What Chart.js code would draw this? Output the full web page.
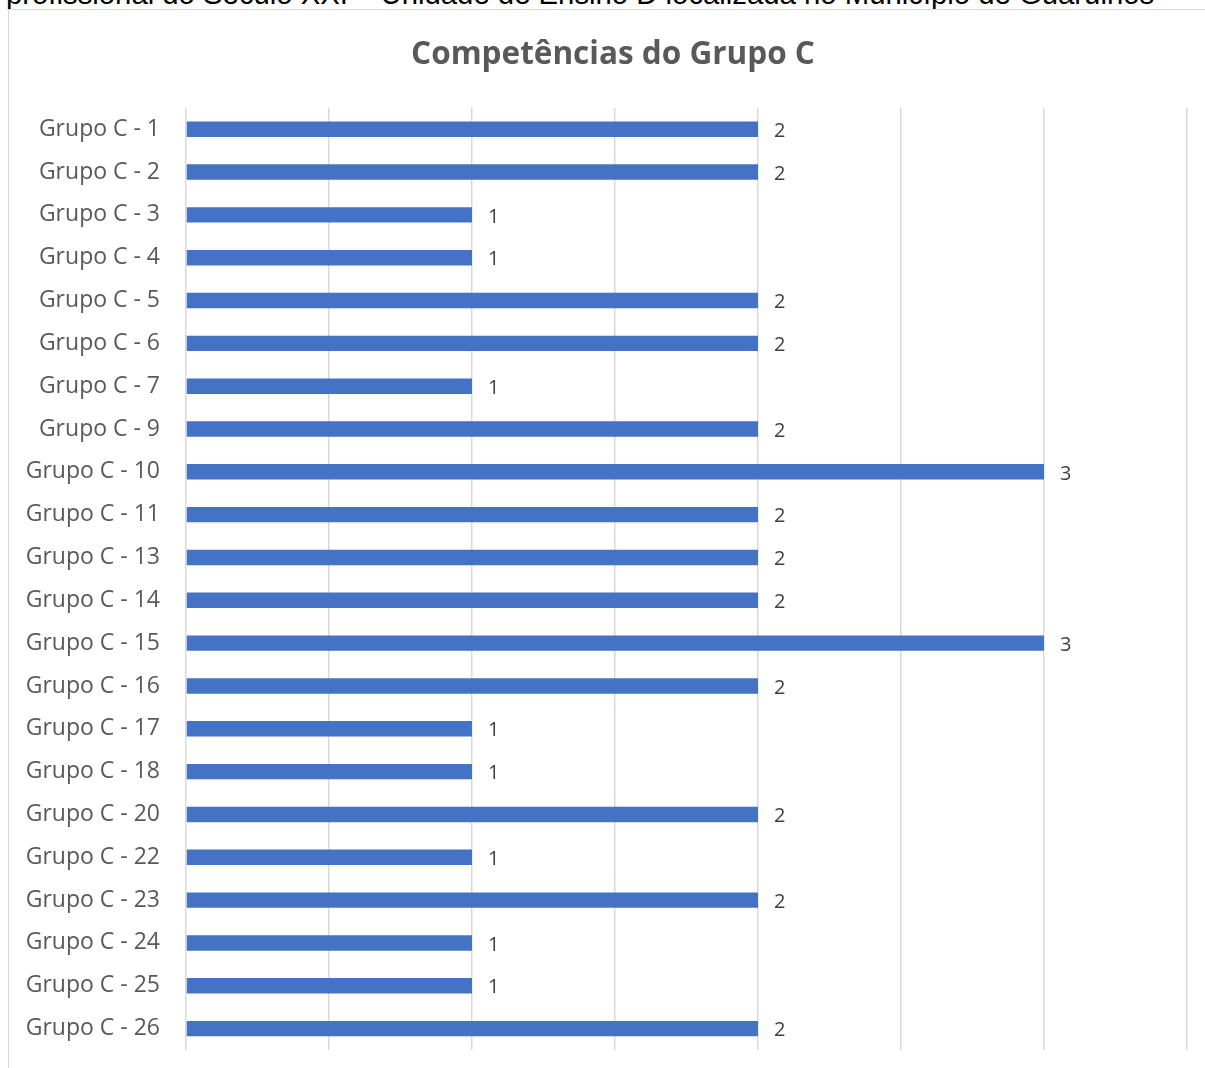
<!DOCTYPE html>
<html>
<head>
<meta charset="utf-8">
<script src="https://cdn.jsdelivr.net/npm/chart.js@4"></script>
<style>
  html, body { margin: 0; padding: 0; background: #fff; overflow: hidden; }
  #wrap { position: relative; width: 1205px; height: 1068px; overflow: hidden; }
  #topline { position: absolute; left: 6px; top: 0; font-family: "Liberation Sans", Arial, sans-serif; font-size: 26px; color: #000; white-space: nowrap; line-height: 1; }
  #frame { position: absolute; left: 8px; top: 9px; width: 1220px; height: 1080px; border: 1.5px solid #d9d9d9; box-sizing: border-box; }
  #c { position: absolute; left: 0; top: 0; }
</style>
</head>
<body>
<div id="wrap">
  <div id="topline">profissional do Século XXI – Unidade de Ensino D localizada no Município de Guarulhos</div>
  <div id="frame"></div>
  <canvas id="c" width="1226" height="1068"></canvas>
</div>
<script>
const categories = ["Grupo C - 1","Grupo C - 2","Grupo C - 3","Grupo C - 4","Grupo C - 5","Grupo C - 6","Grupo C - 7","Grupo C - 9","Grupo C - 10","Grupo C - 11","Grupo C - 13","Grupo C - 14","Grupo C - 15","Grupo C - 16","Grupo C - 17","Grupo C - 18","Grupo C - 20","Grupo C - 22","Grupo C - 23","Grupo C - 24","Grupo C - 25","Grupo C - 26"];
const values = [2,2,1,1,2,2,1,2,3,2,2,2,3,2,1,1,2,1,2,1,1,2];
const chartTitle = "Competências do Grupo C";

// fit the cut-off top text line to its width and place its baseline near y=5
(function(){
  const el = document.getElementById('topline');
  const w = el.getBoundingClientRect().width;
  const fs = 26 * 1149 / w;
  el.style.fontSize = fs + 'px';
  el.style.top = (5 - fs * 0.9) + 'px';
})();

const dataLabels = {
  id: 'dataLabels',
  afterDatasetsDraw(chart) {
    const ctx = chart.ctx;
    const meta = chart.getDatasetMeta(0);
    ctx.save();
    ctx.font = '20px "Open Sans", Lato, sans-serif';
    ctx.fillStyle = '#404040';
    ctx.textAlign = 'left';
    ctx.textBaseline = 'middle';
    meta.data.forEach((bar, i) => {
      ctx.fillText(String(values[i]), bar.x + 16, bar.y + 2);
    });
    ctx.restore();
  }
};

new Chart(document.getElementById('c'), {
  type: 'bar',
  data: {
    labels: categories,
    datasets: [{
      data: values,
      backgroundColor: '#4472c4',
      borderWidth: 0,
      barPercentage: 0.36,
      categoryPercentage: 1.0
    }]
  },
  options: {
    indexAxis: 'y',
    responsive: false,
    animation: false,
    devicePixelRatio: 1,
    layout: { padding: { left: 0, right: 0, top: 0, bottom: 18 } },
    plugins: {
      legend: { display: false },
      tooltip: { enabled: false },
      title: {
        display: true,
        text: chartTitle,
        color: '#595959',
        font: { family: '"Open Sans", Lato, sans-serif', size: 31.5, weight: 'bold', lineHeight: 1.2 },
        padding: { top: 36, bottom: 34 }
      }
    },
    scales: {
      x: {
        min: 0, max: 3.5,
        ticks: { display: false, stepSize: 0.5 },
        grid: { color: '#d9d9d9', lineWidth: 1.5, drawTicks: false },
        border: { display: false },
        afterFit(s) { s.height = 0; s.paddingLeft = 0; s.paddingRight = 0; }
      },
      y: {
        ticks: { color: '#595959', font: { family: '"Open Sans", Lato, sans-serif', size: 23 }, padding: 26 },
        grid: { display: false, drawTicks: false },
        border: { display: false },
        afterFit(s) { s.width = 186; s.paddingTop = 0; s.paddingBottom = 0; }
      },
      yRight: {
        position: 'right',
        type: 'linear',
        ticks: { display: false },
        grid: { display: false, drawTicks: false },
        border: { display: false },
        afterFit(s) { s.width = 39; s.paddingTop = 0; s.paddingBottom = 0; }
      }
    }
  },
  plugins: [dataLabels]
});
</script>
</body>
</html>
